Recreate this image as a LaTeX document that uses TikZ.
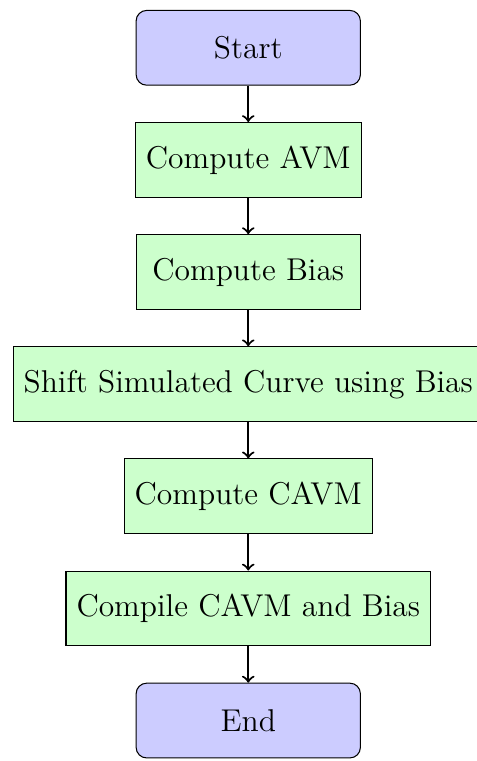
\documentclass[12pt,tikz,border=0pt]{standalone}
\usepackage{amsmath}
\usepackage{xcolor}
\usepackage{tikz}

\begin{document}
\begin{tikzpicture}
    \def\dy{1.5cm}
    \newcounter{i}
    \tikzstyle{startstop}=[rectangle, rounded corners, minimum width=3cm, minimum height=1cm, text centered, draw=black, fill=blue!20]
    \tikzstyle{process}=[rectangle, minimum width=3cm, minimum height=1cm, text centered, draw=black, fill=green!20]
    \tikzstyle{arrow}=[thick, ->]

    \useasboundingbox (-94.5pt,18.2pt) rectangle (86.9pt,-6*\dy-15.4pt);

    \stepcounter{i}\node[startstop]  (\arabic{i}) at (0,0*\dy) {Start};
    \stepcounter{i}\node[process]  (\arabic{i}) at (0,-1*\dy) {Compute AVM};
    \stepcounter{i}\node[process]  (\arabic{i}) at (0,-2*\dy) {Compute Bias};
    \stepcounter{i}\node[process]  (\arabic{i}) at (0,-3*\dy) {Shift Simulated Curve using Bias};
    \stepcounter{i}\node[process]  (\arabic{i}) at (0,-4*\dy) {Compute CAVM};
    \stepcounter{i}\node[process]  (\arabic{i}) at (0,-5*\dy) {Compile CAVM and Bias};
    \stepcounter{i}\node[startstop]  (\arabic{i}) at (0,-6*\dy) {End};

          \draw [arrow] (1) -- (2);
          \draw [arrow] (2) -- (3);
          \draw [arrow] (3) -- (4);
          \draw [arrow] (4) -- (5);
          \draw [arrow] (5) -- (6);
          \draw [arrow] (6) -- (7);
\end{tikzpicture}
\end{document}
